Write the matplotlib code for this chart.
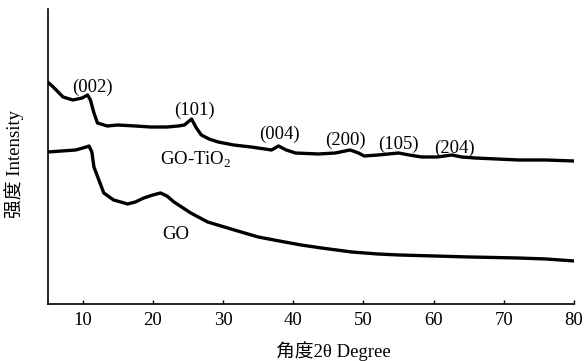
import numpy as np
import matplotlib
matplotlib.use("Agg")
from matplotlib import pyplot as plt

plt.rcParams['font.family'] = ['Liberation Serif', 'Noto Sans CJK SC']
plt.rcParams['mathtext.fontset'] = 'custom'
plt.rcParams['mathtext.rm'] = 'Liberation Serif'

# 2theta / intensity (a.u.)
go_tio2_x = [5, 5.8, 7.2, 8.6, 9.9, 10.7, 11.1, 11.6, 12.1, 13.5, 15, 17.5, 19.7,
             22, 23.6, 24.5, 25.5, 26.2, 26.9, 28, 29.3, 31.5, 34, 36.9, 37.9,
             39, 40.3, 43.6, 46, 48.1, 49.3, 50.1, 52.1, 55, 56.5, 58.3, 60.5,
             62.6, 64, 65.9, 69, 72.1, 76, 80]
go_tio2_y = [222, 217, 207, 204, 206, 209, 204, 191, 181, 178, 179, 178, 177,
             177, 178, 179, 185, 176, 169, 165, 162, 159, 157, 154, 158,
             154, 151, 150, 151, 154, 151, 148, 149, 151, 149, 147, 147,
             149, 147, 146, 145, 144, 144, 143]

go_x = [5, 7, 9, 10.5, 10.9, 11.3, 11.6, 12.3, 13, 14.4, 16.4, 17.5, 18.7, 20,
        21.1, 22, 23, 25.4, 27.8, 31.6, 35, 38, 41.1, 44, 48.3, 52, 55, 60,
        65, 71.9, 76, 80]
go_y = [152, 153, 154, 157, 158, 152, 137, 124, 111, 104, 100, 102, 106, 109,
        111, 108, 102, 91, 82, 74, 67, 63, 59, 56, 52, 50, 49, 48,
        47, 46, 45, 43]

peak_labels = ['(002)', '(101)', '(004)', '(200)', '(105)', '(204)']
peak_x = [11.4, 25.9, 38.1, 47.4, 55.0, 62.9]
peak_y = [217, 194, 170, 164, 160, 156]

fig = plt.figure(figsize=(5.85, 3.61), dpi=100)
ax = fig.add_axes([0.0814, 0.158, 0.8998, 0.817])

ax.plot(go_tio2_x, go_tio2_y, color='black', lw=2.4)
ax.plot(go_x, go_y, color='black', lw=2.4)

fs = 13.5
for lab, px, py in zip(peak_labels, peak_x, peak_y):
    ax.text(px, py, lab, ha='center', va='center', fontsize=fs)
ax.text(26.1, 144, 'GO-TiO$_2$', ha='center', va='center', fontsize=fs)
ax.text(23.3, 69, 'GO', ha='center', va='center', fontsize=fs)

ax.set_xlim(5, 80)
ax.set_ylim(0, 295)
ax.set_xticks(np.arange(10, 81, 10))
ax.set_yticks([])
ax.tick_params(axis='x', direction='in', length=3, width=1, labelsize=fs, pad=6)
ax.spines['top'].set_visible(False)
ax.spines['right'].set_visible(False)
ax.spines['left'].set_linewidth(1.2)
ax.spines['bottom'].set_linewidth(1.2)

ax.set_xlabel('角度2θ Degree', fontsize=fs)
ax.xaxis.set_label_coords(0.542, -0.125)
ax.set_ylabel('强度 Intensity', fontsize=fs)
ax.yaxis.set_label_coords(-0.045, 0.475)

fig.savefig('out.png', dpi=100)
